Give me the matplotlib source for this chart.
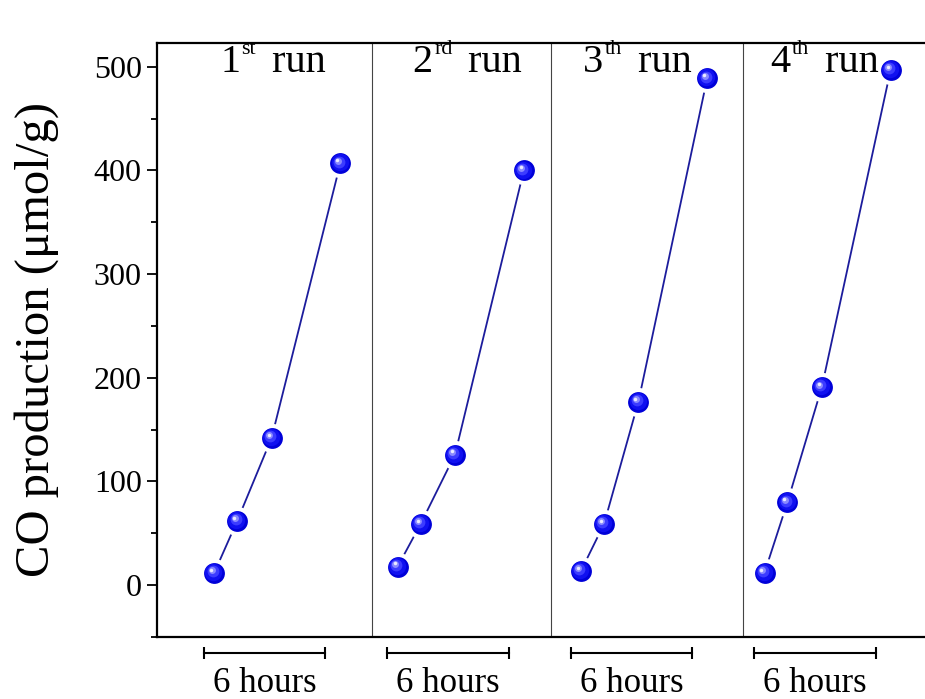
import numpy as np
import matplotlib.pyplot as plt
from matplotlib.transforms import offset_copy

plt.rcParams['font.family'] = ['Liberation Serif', 'DejaVu Serif']

# sampling times within one run (hours) and the offset between runs
t_run = np.array([0.5, 1.5, 3.0, 6.0])
run_offset = 8.0

run_nums = ['1', '2', '3', '4']
run_sups = ['st', 'rd', 'th', 'th']
title_x = [0.75, 9.15, 16.6, 24.75]
co_values = [
    [12, 62, 142, 407],
    [18, 59, 126, 400],
    [14, 59, 177, 489],
    [12, 80, 191, 497],
]
separators = [7.4, 15.2, 23.55]
bar_label = '6 hours'

fig = plt.figure(figsize=(9.25, 6.99), dpi=100)
ax = fig.add_axes([0.1697, 0.0887, 0.8303, 0.8498])

for i, vals in enumerate(co_values):
    x = t_run + i * run_offset
    ax.plot(x, vals, color='#1c1c9c', lw=1.3, zorder=2)
    # fake sphere: dark ball, lighter inner layers shifted up-left
    ax.plot(x, vals, 'o', ms=18, mfc='#0000d8', mec='white', mew=3.0, zorder=3)
    for ms, col, dx, dy in [(12.5, '#1010f0', -0.6, 0.6), (8.5, '#3c3cff', -1.2, 1.2),
                            (5, '#8a8aff', -1.9, 1.9), (2.5, '#eaeaff', -2.2, 2.2)]:
        tr = offset_copy(ax.transData, fig=fig, x=dx, y=dy, units='points')
        ax.plot(x, vals, 'o', ms=ms, mfc=col, mec='none', transform=tr, zorder=4)

    # title: number, small superscript, then "run"
    t1 = ax.text(title_x[i], 495, run_nums[i], fontsize=29, ha='left', va='baseline')
    t2 = ax.annotate(run_sups[i], xy=(1, 1), xycoords=t1, xytext=(1, 3),
                     textcoords='offset points', fontsize=16, ha='left', va='top')
    ax.annotate(' run', xy=(1, 0), xycoords=(t2, t1), xytext=(4, 0),
                textcoords='offset points', fontsize=29, ha='left', va='bottom')

    # scale bar under each run
    x0 = 0.05 + i * run_offset
    x1 = x0 + 5.3
    ax.plot([x0, x1], [-65, -65], color='black', lw=1.5, clip_on=False)
    ax.plot([x0, x1], [-65, -65], '|', color='black', ms=8, mew=1.5, clip_on=False)
    ax.text((x0 + x1) / 2, -103, bar_label, fontsize=25, ha='center', va='baseline')

for s in separators:
    ax.axvline(s, color='#444444', lw=0.8, zorder=1)

ax.set_xlim(-2, 31.5)
ax.set_ylim(-50, 523)
ax.set_yticks([0, 100, 200, 300, 400, 500])
ax.set_yticks(np.arange(-50, 525, 50), minor=True)
ax.set_xticks([])
ax.tick_params(axis='y', which='major', direction='out', length=7, width=1.3,
               labelsize=23, pad=4)
ax.tick_params(axis='y', which='minor', direction='out', length=4.5, width=1.3)
ax.spines['right'].set_visible(False)
for sp in ['left', 'bottom', 'top']:
    ax.spines[sp].set_linewidth(1.6)
ax.set_ylabel('CO production (μmol/g)', fontsize=35, labelpad=25)

fig.savefig('out.png', dpi=100)
